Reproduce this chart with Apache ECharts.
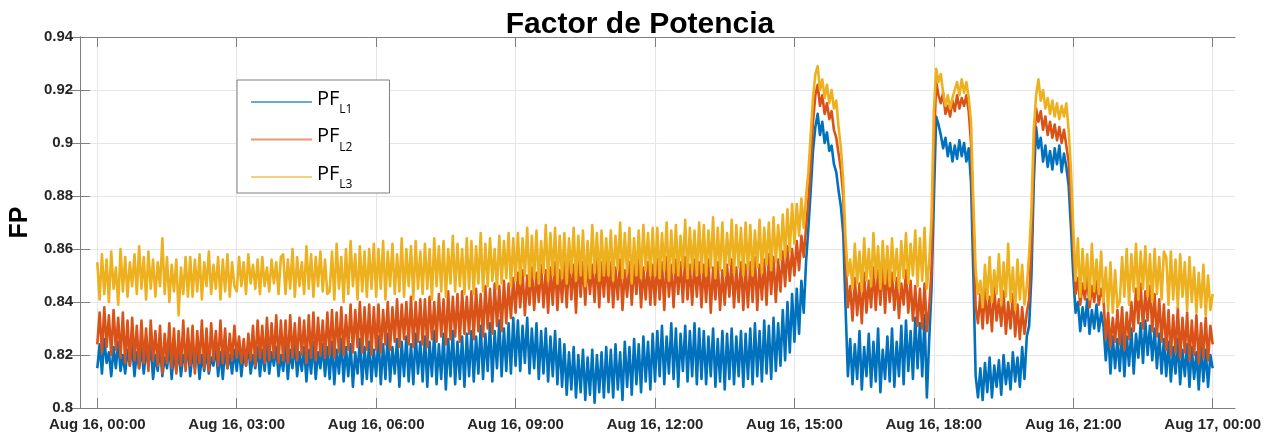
<!DOCTYPE html>
<html>
<head>
<meta charset="utf-8">
<script src="https://cdn.jsdelivr.net/npm/echarts@6/dist/echarts.min.js"></script>
<style>
html, body { margin: 0; padding: 0; background: #fff; }
#chart { width: 1273px; height: 438px; }
</style>
</head>
<body>
<div id="chart"></div>
<script>
// Power factor per phase, one reading every 3 minutes from Aug 16 00:00 to Aug 17 00:00
const STEP_MIN = 3;
const tickLabels = ['Aug 16, 00:00', 'Aug 16, 03:00', 'Aug 16, 06:00', 'Aug 16, 09:00', 'Aug 16, 12:00',
                    'Aug 16, 15:00', 'Aug 16, 18:00', 'Aug 16, 21:00', 'Aug 17, 00:00'];
const seriesNames = ['PF_L1', 'PF_L2', 'PF_L3'];
const seriesColors = ['#0072BD', '#D95319', '#EDB120'];

// one row per hour (20 readings), last value at 24:00
const pfL1 = [
  .815,.824,.813,.826,.817,.821,.812,.823,.815,.825,.814,.820,.813,.822,.816,.824,.812,.821,.815,.823,
  .813,.822,.816,.824,.811,.820,.814,.823,.812,.819,.815,.824,.811,.821,.814,.822,.812,.820,.816,.823,
  .812,.821,.815,.823,.811,.820,.814,.822,.813,.819,.816,.823,.812,.821,.811,.822,.815,.820,.813,.822,
  .814,.823,.812,.821,.816,.824,.813,.820,.815,.823,.812,.822,.814,.824,.813,.821,.816,.823,.812,.820,
  .814,.824,.811,.822,.815,.825,.812,.821,.814,.823,.810,.822,.813,.825,.811,.821,.815,.824,.812,.823,
  .811,.825,.809,.822,.813,.826,.810,.823,.812,.824,.808,.821,.813,.826,.809,.823,.811,.825,.810,.822,
  .812,.827,.809,.824,.811,.828,.810,.823,.813,.826,.808,.825,.812,.827,.810,.824,.809,.828,.813,.825,
  .810,.827,.808,.825,.812,.829,.809,.824,.811,.828,.807,.826,.812,.829,.809,.825,.811,.827,.808,.828,
  .812,.829,.810,.827,.813,.831,.811,.828,.814,.832,.810,.829,.815,.833,.812,.830,.814,.832,.813,.834,
  .816,.833,.814,.831,.817,.834,.813,.830,.815,.832,.811,.829,.813,.830,.810,.827,.812,.829,.809,.826,
  .808,.824,.805,.821,.807,.823,.804,.820,.806,.822,.803,.819,.805,.822,.802,.820,.806,.821,.804,.823,
  .806,.822,.804,.824,.807,.821,.803,.825,.808,.823,.805,.826,.809,.824,.806,.827,.810,.825,.807,.828,
  .810,.829,.812,.831,.809,.827,.813,.832,.811,.830,.808,.828,.814,.831,.810,.829,.812,.832,.809,.830,
  .811,.829,.809,.827,.812,.830,.808,.826,.810,.829,.807,.828,.811,.830,.809,.827,.812,.829,.808,.828,
  .811,.830,.809,.832,.812,.829,.810,.833,.813,.831,.811,.834,.814,.832,.816,.837,.818,.840,.821,.843,
  .825,.845,.828,.848,.836,.855,.868,.882,.897,.906,.911,.903,.908,.900,.904,.897,.899,.892,.889,.882,
  .876,.866,.838,.812,.826,.809,.824,.811,.829,.807,.823,.812,.828,.808,.825,.810,.830,.806,.822,.811,
  .827,.810,.830,.808,.825,.812,.831,.809,.833,.814,.829,.811,.834,.815,.832,.812,.835,.804,.826,.845,
  .878,.910,.907,.903,.898,.902,.895,.900,.893,.899,.894,.901,.895,.900,.893,.898,.885,.850,.812,.804,
  .815,.803,.817,.806,.819,.804,.816,.808,.818,.805,.820,.809,.817,.807,.821,.810,.819,.808,.823,.811,
  .827,.831,.850,.885,.906,.898,.902,.893,.899,.891,.897,.890,.898,.892,.899,.889,.896,.891,.884,.868,
  .850,.836,.840,.829,.838,.831,.841,.828,.837,.830,.839,.829,.836,.831,.818,.829,.813,.827,.815,.826,
  .814,.829,.812,.827,.816,.830,.813,.828,.819,.832,.817,.833,.820,.831,.818,.830,.815,.828,.813,.826,
  .812,.825,.810,.823,.813,.826,.809,.822,.812,.824,.808,.823,.811,.821,.807,.824,.810,.822,.808,.820,
  .815
];

const pfL2 = [
  .824,.836,.821,.838,.823,.835,.820,.837,.822,.834,.819,.836,.817,.833,.816,.834,.818,.831,.815,.833,
  .817,.830,.814,.833,.818,.829,.816,.831,.813,.828,.817,.832,.815,.830,.813,.829,.816,.833,.814,.830,
  .816,.831,.813,.829,.817,.833,.815,.830,.814,.832,.818,.829,.816,.833,.817,.830,.815,.828,.818,.831,
  .819,.827,.817,.826,.816,.828,.818,.831,.816,.833,.819,.831,.817,.834,.818,.832,.819,.835,.817,.833,
  .818,.833,.817,.835,.819,.832,.818,.834,.820,.833,.817,.835,.819,.836,.818,.834,.820,.833,.819,.836,
  .820,.837,.819,.836,.821,.838,.820,.835,.822,.839,.821,.837,.823,.840,.821,.838,.822,.839,.820,.838,
  .822,.839,.821,.837,.824,.840,.822,.838,.825,.841,.823,.839,.826,.840,.824,.842,.823,.840,.825,.841,
  .824,.841,.823,.842,.826,.840,.825,.843,.827,.841,.824,.844,.826,.842,.827,.843,.825,.844,.828,.842,
  .828,.844,.826,.845,.829,.843,.827,.846,.830,.845,.828,.847,.831,.846,.829,.848,.832,.847,.834,.849,
  .836,.851,.838,.852,.835,.850,.839,.853,.837,.851,.840,.854,.838,.852,.836,.853,.839,.855,.837,.852,
  .840,.855,.838,.856,.841,.854,.836,.857,.842,.855,.839,.856,.843,.854,.840,.857,.838,.855,.842,.856,
  .840,.855,.838,.853,.841,.856,.837,.852,.842,.855,.839,.854,.843,.856,.838,.853,.841,.855,.839,.854,
  .839,.856,.841,.855,.837,.857,.842,.854,.838,.856,.843,.855,.840,.857,.841,.854,.839,.856,.842,.855,
  .838,.854,.840,.856,.836,.853,.841,.855,.837,.852,.839,.854,.842,.856,.838,.853,.840,.855,.837,.854,
  .838,.855,.840,.857,.837,.854,.841,.856,.839,.858,.843,.857,.840,.856,.844,.859,.846,.861,.848,.860,
  .850,.863,.852,.865,.857,.868,.878,.892,.908,.918,.922,.914,.918,.911,.915,.909,.912,.905,.902,.896,
  .890,.880,.856,.838,.846,.833,.849,.835,.847,.832,.851,.836,.848,.838,.853,.837,.852,.839,.855,.836,
  .853,.840,.851,.837,.849,.834,.847,.839,.852,.836,.848,.833,.846,.831,.845,.830,.847,.829,.838,.852,
  .898,.923,.918,.915,.919,.911,.914,.910,.916,.912,.918,.913,.917,.914,.918,.912,.900,.866,.838,.832,
  .843,.830,.845,.832,.842,.829,.846,.833,.841,.831,.844,.828,.840,.830,.843,.827,.839,.826,.838,.828,
  .836,.841,.862,.896,.913,.908,.912,.905,.910,.903,.908,.902,.907,.901,.906,.900,.905,.899,.893,.878,
  .860,.843,.849,.839,.847,.841,.850,.838,.846,.840,.848,.839,.845,.841,.826,.836,.823,.834,.825,.837,
  .824,.838,.822,.836,.826,.840,.829,.845,.832,.847,.830,.844,.833,.846,.829,.843,.827,.841,.825,.839,
  .822,.837,.820,.835,.821,.838,.819,.834,.821,.836,.818,.833,.820,.835,.817,.832,.819,.834,.818,.831,
  .824
];

const pfL3 = [
  .855,.841,.858,.843,.856,.840,.859,.845,.853,.839,.860,.844,.857,.842,.855,.846,.858,.843,.861,.845,
  .857,.841,.859,.845,.856,.842,.855,.846,.864,.843,.857,.840,.854,.844,.856,.835,.853,.843,.857,.842,
  .857,.842,.856,.844,.858,.841,.855,.846,.859,.843,.854,.845,.857,.841,.856,.844,.858,.842,.855,.846,
  .844,.857,.846,.855,.843,.858,.847,.854,.845,.856,.843,.857,.846,.853,.844,.856,.847,.855,.843,.857,
  .858,.843,.856,.845,.860,.842,.857,.846,.855,.843,.861,.845,.858,.842,.857,.846,.859,.844,.856,.843,
  .844,.859,.841,.862,.845,.857,.840,.860,.843,.863,.846,.858,.841,.861,.844,.859,.842,.860,.845,.862,
  .842,.860,.845,.863,.841,.859,.846,.862,.843,.858,.844,.864,.842,.860,.846,.861,.841,.863,.845,.859,
  .843,.862,.845,.860,.841,.864,.846,.861,.844,.863,.842,.860,.847,.865,.844,.862,.846,.860,.843,.864,
  .845,.863,.843,.861,.847,.866,.844,.862,.846,.864,.848,.860,.845,.865,.847,.863,.849,.866,.846,.864,
  .848,.866,.847,.864,.850,.868,.846,.865,.849,.867,.847,.863,.851,.869,.848,.866,.850,.868,.847,.865,
  .849,.866,.847,.864,.851,.868,.848,.865,.850,.867,.846,.863,.849,.869,.851,.866,.848,.867,.850,.864,
  .850,.867,.848,.865,.852,.870,.849,.866,.851,.868,.847,.864,.850,.867,.849,.869,.852,.866,.850,.868,
  .850,.868,.849,.866,.852,.870,.848,.867,.851,.869,.850,.865,.853,.871,.849,.868,.852,.867,.850,.870,
  .851,.869,.850,.867,.853,.872,.849,.868,.852,.870,.850,.866,.854,.871,.851,.869,.853,.868,.850,.870,
  .852,.869,.850,.867,.853,.871,.851,.868,.854,.870,.852,.872,.855,.869,.856,.873,.857,.875,.859,.877,
  .862,.877,.865,.879,.868,.880,.889,.903,.917,.926,.929,.920,.924,.917,.922,.915,.920,.913,.916,.906,
  .898,.886,.864,.850,.856,.845,.862,.847,.859,.844,.864,.848,.860,.846,.866,.849,.861,.845,.863,.847,
  .861,.846,.864,.848,.860,.845,.863,.849,.866,.847,.862,.850,.867,.846,.864,.848,.868,.845,.855,.872,
  .912,.928,.923,.926,.919,.914,.918,.913,.917,.920,.923,.918,.924,.919,.923,.917,.908,.878,.852,.843,
  .848,.838,.854,.841,.857,.840,.852,.843,.858,.839,.855,.842,.862,.840,.853,.837,.856,.841,.854,.839,
  .846,.858,.875,.905,.918,.924,.916,.920,.913,.917,.911,.916,.910,.915,.909,.914,.910,.915,.905,.890,
  .868,.848,.864,.842,.860,.845,.858,.841,.862,.844,.856,.843,.859,.840,.853,.837,.855,.836,.852,.838,
  .840,.857,.842,.860,.839,.858,.844,.862,.841,.859,.845,.861,.842,.858,.840,.860,.843,.857,.841,.859,
  .857,.839,.859,.841,.856,.838,.858,.842,.855,.837,.857,.840,.853,.836,.851,.838,.854,.835,.850,.837,
  .843
];

const seriesValues = [pfL1, pfL2, pfL3];

const AXIS_GRAY = '#7f7f7f';
const GRID_GRAY = '#e6e6e6';
const LABEL_COLOR = '#262626';
const BOLD_SANS = 'Liberation Sans, Arial, sans-serif';

const chart = echarts.init(document.getElementById('chart'), null, { renderer: 'canvas' });

const toPairs = vals => vals.map((v, i) => [i * STEP_MIN / 60, v]);

chart.setOption({
  animation: false,
  backgroundColor: '#fff',
  title: {
    text: 'Factor de Potencia',
    left: 635,
    top: 5,
    textAlign: 'center',
    textStyle: { fontFamily: BOLD_SANS, fontSize: 30, fontWeight: 'bold', color: '#000' }
  },
  legend: {
    orient: 'vertical',
    left: 237,
    top: 80,
    padding: [8, 37, 2, 13],
    itemGap: 9.5,
    itemWidth: 61,
    itemHeight: 30,
    selectedMode: false,
    backgroundColor: '#fff',
    borderColor: '#7f7f7f',
    borderWidth: 1,
    itemStyle: { opacity: 0, borderWidth: 0 },
    lineStyle: { width: 2, opacity: 0.6 },
    data: seriesNames.map((name, k) => ({
      name: name,
      itemStyle: { opacity: 0, borderWidth: 0 },
      lineStyle: { color: seriesColors[k], width: 2, opacity: 0.6 }
    })),
    formatter: name => '{a|PF}{b|' + name.split('_')[1] + '}',
    textStyle: {
      rich: {
        a: { fontFamily: 'Open Sans', fontSize: 20, color: '#000', lineHeight: 22, padding: [1, 0, 7, 0] },
        b: { fontFamily: 'Open Sans', fontSize: 12, color: '#000', lineHeight: 14, padding: [16, 0, 0, 0] }
      }
    }
  },
  grid: [
    { left: 75, right: 38, top: 37, bottom: 30 },
    { left: 97.3, right: 60.3, top: 37, bottom: 30 }
  ],
  xAxis: [
    { gridIndex: 0, type: 'value', min: 0, max: 1, position: 'bottom',
      axisLine: { show: true, onZero: false, lineStyle: { color: AXIS_GRAY, width: 1 } },
      axisTick: { show: false }, axisLabel: { show: false }, splitLine: { show: false } },
    { gridIndex: 0, type: 'value', min: 0, max: 1, position: 'top',
      axisLine: { show: true, onZero: false, lineStyle: { color: AXIS_GRAY, width: 1 } },
      axisTick: { show: false }, axisLabel: { show: false }, splitLine: { show: false } },
    { gridIndex: 1, type: 'value', min: 0, max: 24, interval: 3, position: 'bottom',
      axisLine: { show: false, onZero: false },
      axisTick: { show: true, inside: true, length: 10, lineStyle: { color: AXIS_GRAY } },
      axisLabel: {
        show: true, margin: 9, color: LABEL_COLOR, fontFamily: BOLD_SANS, fontSize: 15, fontWeight: 'bold',
        formatter: v => tickLabels[Math.round(v / 3)]
      },
      splitLine: { show: true, lineStyle: { color: GRID_GRAY, width: 1 } } },
    { gridIndex: 1, type: 'value', min: 0, max: 24, interval: 3, position: 'top',
      axisLine: { show: false, onZero: false },
      axisTick: { show: true, inside: true, length: 10, lineStyle: { color: AXIS_GRAY } },
      axisLabel: { show: false }, splitLine: { show: false } }
  ],
  yAxis: [
    { gridIndex: 0, type: 'value', min: 0.8, max: 0.94, interval: 0.02, position: 'left',
      name: 'FP', nameLocation: 'middle', nameRotate: 90, nameGap: 47,
      nameTextStyle: { fontFamily: BOLD_SANS, fontSize: 25, fontWeight: 'bold', color: '#000' },
      axisLine: { show: true, lineStyle: { color: AXIS_GRAY, width: 1 } },
      axisTick: { show: true, inside: true, length: 10, lineStyle: { color: AXIS_GRAY } },
      axisLabel: { show: true, margin: 7, color: LABEL_COLOR, fontFamily: BOLD_SANS, fontSize: 15, fontWeight: 'bold' },
      splitLine: { show: true, lineStyle: { color: GRID_GRAY, width: 1 } } },
    { gridIndex: 0, type: 'value', min: 0.8, max: 0.94, interval: 0.02, position: 'right',
      axisLine: { show: true, lineStyle: { color: AXIS_GRAY, width: 1 } },
      axisTick: { show: true, inside: true, length: 10, lineStyle: { color: AXIS_GRAY } },
      axisLabel: { show: false }, splitLine: { show: false } },
    { gridIndex: 1, type: 'value', min: 0.8, max: 0.94, show: false }
  ],
  series: seriesNames.map((name, k) => ({
    name: name,
    type: 'line',
    xAxisIndex: 2,
    yAxisIndex: 2,
    data: toPairs(seriesValues[k]),
    symbol: 'none',
    showSymbol: false,
    sampling: null,
    color: seriesColors[k],
    lineStyle: { color: seriesColors[k], width: 2.6, join: 'round' },
    z: 2 + k
  }))
});
</script>
</body>
</html>
